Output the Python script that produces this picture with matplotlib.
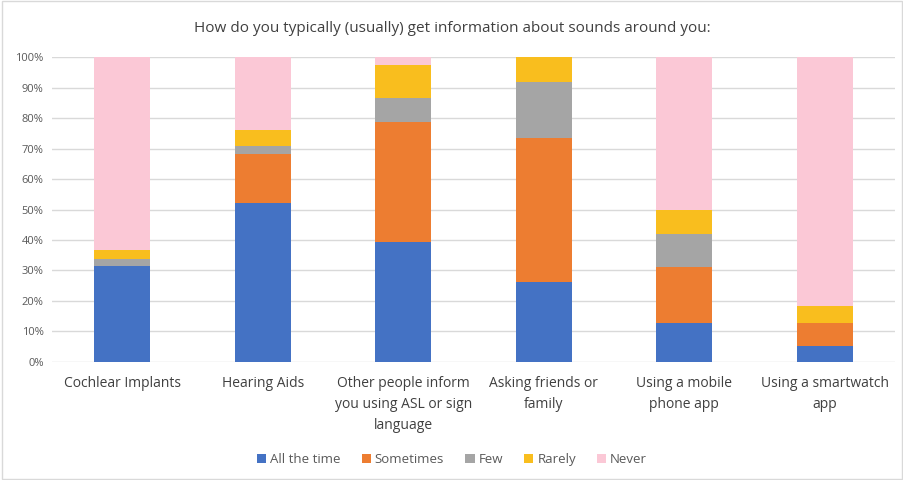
import matplotlib
matplotlib.use("Agg")
import matplotlib.pyplot as plt
import numpy as np
from matplotlib.ticker import PercentFormatter

categories = ["Cochlear Implants", "Hearing Aids",
              "Other people inform\nyou using ASL or sign\nlanguage",
              "Asking friends or\nfamily", "Using a mobile\nphone app",
              "Using a smartwatch\napp"]
series_names = ["All the time", "Sometimes", "Few", "Rarely", "Never"]
all_the_time = [31.4, 52.2, 39.3, 26.2, 12.8, 5.1]
sometimes = [0.0, 15.9, 39.4, 47.4, 18.3, 7.7]
few = [2.5, 2.6, 7.9, 18.3, 10.8, 0.0]
rarely = [2.7, 5.5, 10.7, 8.1, 7.8, 5.5]
never = [63.4, 23.8, 2.7, 0.0, 50.3, 81.7]
colors = ["#4472C4", "#ED7D31", "#A5A5A5", "#F9BE1E", "#FBC8D6"]

plt.rcParams['font.family'] = ['Open Sans', 'DejaVu Sans']
fig = plt.figure(figsize=(9.04, 4.8), dpi=100)
ax = fig.add_axes([0.0575, 0.246, 0.9325, 0.635])

x = np.arange(len(categories))
bottom = np.zeros(len(categories))
for name, vals, c in zip(series_names, [all_the_time, sometimes, few, rarely, never], colors):
    v = np.array(vals)
    ax.bar(x, v, 0.4, bottom=bottom, color=c, label=name, zorder=3)
    bottom += v

ax.set_xlim(-0.5, len(categories) - 0.5)
ax.set_ylim(0, 100)
ax.set_yticks(np.arange(0, 101, 10))
ax.yaxis.set_major_formatter(PercentFormatter(decimals=0))
ax.grid(axis='y', color='#D9D9D9', linewidth=1, zorder=0)
for s in ax.spines.values():
    s.set_visible(False)
ax.tick_params(axis='both', length=0, colors='#595959')
ax.tick_params(axis='y', labelsize=8, pad=6)
ax.set_xticks(x)
ax.set_xticklabels(categories, fontsize=10, color='#404040', linespacing=1.55, va='top')
ax.tick_params(axis='x', pad=10)

fig.text(0.5, 0.94, "How do you typically (usually) get information about sounds around you:",
         ha='center', va='center', fontsize=11, color='#404040')

leg = fig.legend(loc='center', bbox_to_anchor=(0.5, 0.043), ncol=5, frameon=False,
                 fontsize=9.5, handlelength=0.7, handleheight=0.7, handletextpad=0.3,
                 columnspacing=1.6)
for t in leg.get_texts():
    t.set_color('#595959')

border = plt.Rectangle((0.002, 0.003), 0.996, 0.994, transform=fig.transFigure,
                       fill=False, edgecolor='#D9D9D9', linewidth=1)
fig.patches.append(border)

fig.savefig("out.png", dpi=100, facecolor='white')
